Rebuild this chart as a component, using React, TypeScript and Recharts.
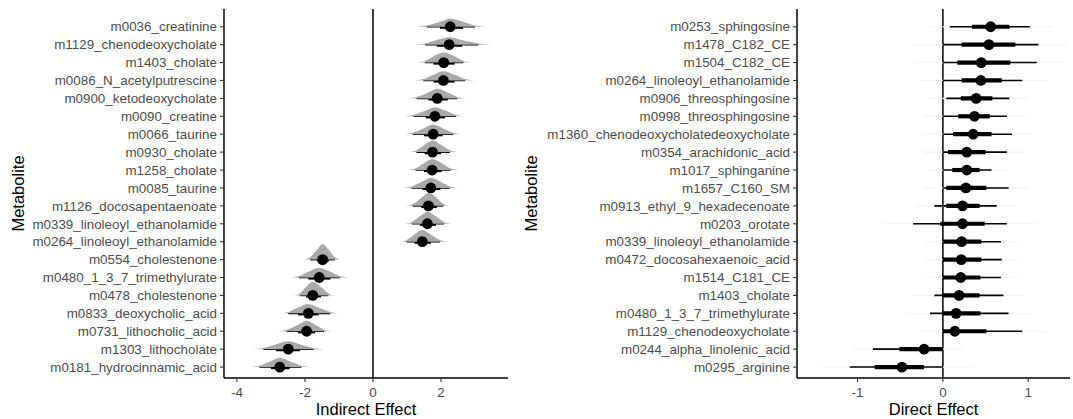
import React from 'react'
import { ScatterChart, Scatter, XAxis, YAxis, ErrorBar, ReferenceLine } from 'recharts'

// indirect effect panel, rows listed top to bottom
const indirectNames = [
  'm0036_creatinine',
  'm1129_chenodeoxycholate',
  'm1403_cholate',
  'm0086_N_acetylputrescine',
  'm0900_ketodeoxycholate',
  'm0090_creatine',
  'm0066_taurine',
  'm0930_cholate',
  'm1258_cholate',
  'm0085_taurine',
  'm1126_docosapentaenoate',
  'm0339_linoleoyl_ethanolamide',
  'm0264_linoleoyl_ethanolamide',
  'm0554_cholestenone',
  'm0480_1_3_7_trimethylurate',
  'm0478_cholestenone',
  'm0833_deoxycholic_acid',
  'm0731_lithocholic_acid',
  'm1303_lithocholate',
  'm0181_hydrocinnamic_acid',
]
const indirectMedian = [2.27, 2.24, 2.08, 2.07, 1.89, 1.82, 1.77, 1.75, 1.74, 1.7, 1.63, 1.6, 1.45, -1.48, -1.58, -1.77, -1.9, -1.95, -2.49, -2.74]
const indirectLow95 = [1.58, 1.53, 1.53, 1.48, 1.28, 1.19, 1.17, 1.28, 1.25, 1.14, 1.17, 1.14, 0.99, -1.85, -2.18, -2.15, -2.49, -2.54, -3.22, -3.34]
const indirectLow66 = [1.97, 1.88, 1.78, 1.78, 1.63, 1.55, 1.5, 1.52, 1.5, 1.45, 1.42, 1.38, 1.22, -1.65, -1.9, -1.97, -2.2, -2.2, -2.85, -3.0]
const indirectHigh66 = [2.65, 2.62, 2.4, 2.4, 2.2, 2.12, 2.05, 2.0, 2.02, 1.98, 1.88, 1.85, 1.7, -1.3, -1.25, -1.53, -1.6, -1.7, -2.15, -2.45]
const indirectHigh95 = [3.0, 3.1, 2.66, 2.71, 2.48, 2.44, 2.36, 2.26, 2.28, 2.26, 2.07, 2.09, 1.97, -1.12, -0.97, -1.31, -1.26, -1.44, -1.75, -2.1]

// direct effect panel
const directNames = [
  'm0253_sphingosine',
  'm1478_C182_CE',
  'm1504_C182_CE',
  'm0264_linoleoyl_ethanolamide',
  'm0906_threosphingosine',
  'm0998_threosphingosine',
  'm1360_chenodeoxycholatedeoxycholate',
  'm0354_arachidonic_acid',
  'm1017_sphinganine',
  'm1657_C160_SM',
  'm0913_ethyl_9_hexadecenoate',
  'm0203_orotate',
  'm0339_linoleoyl_ethanolamide',
  'm0472_docosahexaenoic_acid',
  'm1514_C181_CE',
  'm1403_cholate',
  'm0480_1_3_7_trimethylurate',
  'm1129_chenodeoxycholate',
  'm0244_alpha_linolenic_acid',
  'm0295_arginine',
]
const directMedian = [0.56, 0.54, 0.45, 0.445, 0.39, 0.37, 0.355, 0.28, 0.28, 0.27, 0.23, 0.23, 0.22, 0.215, 0.21, 0.19, 0.155, 0.14, -0.22, -0.48]
const directLow95 = [0.08, 0, 0, 0, 0.04, 0, 0, 0, 0, 0, -0.1, -0.35, 0, 0, 0, -0.1, -0.15, 0, -0.82, -1.09]
const directLow66 = [0.34, 0.22, 0.17, 0.22, 0.21, 0.18, 0.12, 0.06, 0.11, 0.04, 0.04, -0.03, 0, 0, 0, 0, 0, 0, -0.51, -0.8]
const directHigh66 = [0.78, 0.85, 0.79, 0.69, 0.58, 0.55, 0.57, 0.5, 0.43, 0.51, 0.43, 0.49, 0.45, 0.45, 0.44, 0.43, 0.44, 0.51, 0, -0.22]
const directHigh95 = [1.02, 1.12, 1.1, 0.93, 0.78, 0.75, 0.81, 0.75, 0.57, 0.77, 0.63, 0.75, 0.68, 0.69, 0.68, 0.71, 0.77, 0.93, 0, 0]

const indirectTicks = [-4, -2, 0, 2]
const directTicks = [-1, 0, 1]
const rowTicks = indirectNames.map((_, i) => i)

const FONT = '"Liberation Sans", Arial, Helvetica, sans-serif'

function buildRows(med: number[], lo95: number[], lo66: number[], hi66: number[], hi95: number[]) {
  return med.map((m, i) => {
    const w = hi95[i] - lo95[i]
    return {
      row: i,
      med: m,
      e95: [m - lo95[i], hi95[i] - m],
      e66: [m - lo66[i], hi66[i] - m],
      tail: [m - lo95[i] + 0.3 * w, hi95[i] - m + 0.3 * w],
    }
  })
}

// half-eye slab outline, built from the interval values of one row
function buildSlab(i: number, med: number, lo95: number, lo66: number, hi66: number, hi95: number) {
  const h = 0.64 / (hi95 - lo95)
  const xs = [med - 1.45 * (med - lo95), lo95, lo66, med, hi66, hi95, med + 1.45 * (hi95 - med)]
  const ys = [0, 0.15, 0.62, 1, 0.62, 0.15, 0]
  return xs.map((x, k) => ({ med: x, row: i - ys[k] * h }))
}

const indirectRows = buildRows(indirectMedian, indirectLow95, indirectLow66, indirectHigh66, indirectHigh95)
const directRows = buildRows(directMedian, directLow95, directLow66, directHigh66, directHigh95)
const indirectSlabs = indirectMedian.map((m, i) =>
  buildSlab(i, m, indirectLow95[i], indirectLow66[i], indirectHigh66[i], indirectHigh95[i])
)

const Dot = (props: any) => <circle cx={props.cx} cy={props.cy} r={5.4} fill="#000" />
const NoShape = () => <g />

interface PanelProps {
  names: string[]
  rows: any[]
  slabs: any[][]
  domain: [number, number]
  ticks: number[]
  title: string
  width: number
  axisWidth: number
  rightMargin: number
  titleOffset: number
  showTails: boolean
}

function EffectPanel(p: PanelProps) {
  return (
    <ScatterChart width={p.width} height={419} margin={{ top: 9, right: p.rightMargin, bottom: 0, left: 0 }}>
      <XAxis
        type="number"
        dataKey="med"
        domain={p.domain}
        ticks={p.ticks}
        allowDataOverflow
        height={41}
        tickSize={4}
        tickMargin={5}
        tick={{ fill: '#4d4d4d', fontSize: 13.4, fontFamily: FONT }}
        axisLine={{ stroke: '#000', strokeWidth: 1.5 }}
        tickLine={{ stroke: '#333', strokeWidth: 1.1 }}
        label={{ value: p.title, position: 'insideBottom', offset: 4, style: { fill: '#000', fontSize: 16.5, fontFamily: FONT } }}
      />
      <YAxis
        type="number"
        dataKey="row"
        domain={[-0.99, 19.61]}
        reversed
        allowDataOverflow
        ticks={rowTicks}
        interval={0}
        tickFormatter={(v: number) => p.names[v]}
        width={p.axisWidth}
        tickSize={4}
        tickMargin={3}
        tick={{ fill: '#4d4d4d', fontSize: 13.4, fontFamily: FONT }}
        axisLine={{ stroke: '#000', strokeWidth: 1.5 }}
        tickLine={{ stroke: '#333', strokeWidth: 1.1 }}
        label={{
          value: 'Metabolite',
          angle: -90,
          position: 'insideLeft',
          offset: p.titleOffset,
          style: { textAnchor: 'middle', fill: '#000', fontSize: 16.5, fontFamily: FONT },
        }}
      />
      <ReferenceLine x={0} stroke="#000" strokeWidth={1.5} />
      {p.slabs.map((pts, i) => (
        <Scatter
          key={i}
          data={pts}
          line={{ fill: '#a9a9a9', stroke: 'none' }}
          lineJointType="monotoneX"
          shape={NoShape}
          isAnimationActive={false}
        />
      ))}
      <Scatter data={p.rows} shape={Dot} isAnimationActive={false}>
        {p.showTails && (
          <ErrorBar dataKey="tail" direction="x" width={0} stroke="#f4f4f4" strokeWidth={1.2} isAnimationActive={false} />
        )}
        <ErrorBar dataKey="e95" direction="x" width={0} stroke="#000" strokeWidth={1.6} isAnimationActive={false} />
        <ErrorBar dataKey="e66" direction="x" width={0} stroke="#000" strokeWidth={4.2} isAnimationActive={false} />
      </Scatter>
    </ScatterChart>
  )
}

export default function App() {
  return (
    <div style={{ position: 'absolute', left: 0, top: 0, width: 1073, height: 419, background: '#fff' }}>
      <div style={{ position: 'absolute', left: 0, top: 0 }}>
        <EffectPanel
          names={indirectNames}
          rows={indirectRows}
          slabs={indirectSlabs}
          domain={[-4.38, 3.97]}
          ticks={indirectTicks}
          title="Indirect Effect"
          width={520}
          axisWidth={224}
          rightMargin={12}
          titleOffset={18}
          showTails={false}
        />
      </div>
      <div style={{ position: 'absolute', left: 520, top: 0 }}>
        <EffectPanel
          names={directNames}
          rows={directRows}
          slabs={[]}
          domain={[-1.71, 1.49]}
          ticks={directTicks}
          title="Direct Effect"
          width={553}
          axisWidth={277}
          rightMargin={3}
          titleOffset={11}
          showTails={true}
        />
      </div>
    </div>
  )
}
